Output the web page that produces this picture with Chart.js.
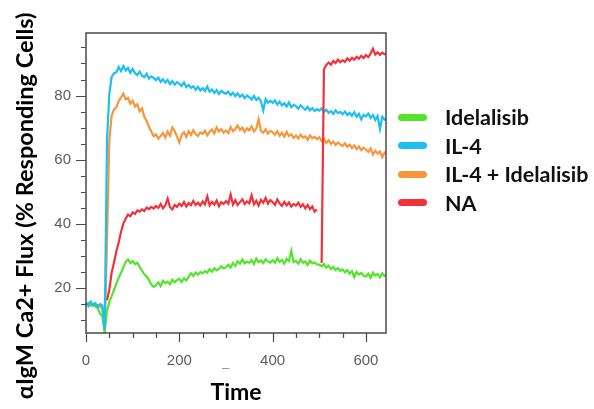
<!DOCTYPE html>
<html lang="en">
<head>
<meta charset="UTF-8">
<title>aIgM Ca2+ Flux</title>
<script src="https://cdn.jsdelivr.net/npm/chart.js"></script>
<style>
    html, body { margin: 0; padding: 0; background: #ffffff; }
    #wrap { position: relative; width: 594px; height: 409px; }
    #legend {
        position: absolute; left: 398px; top: 103px;
        font-family: Lato, sans-serif; font-weight: 700; font-size: 21.5px; color: #111;
    }
    .item { display: flex; align-items: center; height: 28.5px; white-space: nowrap; }
    .sw { width: 29px; height: 7px; border-radius: 3.5px; margin-right: 18px; }
</style>
</head>
<body>
<div id="wrap">
    <canvas id="myChart" width="594" height="409"></canvas>
    <div id="legend"></div>
</div>
<script>
// time points, every 5 s from 0 to 645
const times = [];
for (let t = 0; t <= 645; t += 5) times.push(t);

const seriesNames = ['Idelalisib', 'IL-4', 'IL-4 + Idelalisib', 'NA'];
const seriesColors = ['#52e52c', '#1ebff0', '#f7963c', '#f0323c'];

const idelalisib = [
    14.8, 15.3, 14.5, 15.1, 14.2, 13.8, 12.0, 11.2, 6.5, 12.9,
    15.6, 17.5, 19.4, 21.3, 23.2, 24.8, 26.4, 28.2, 28.9, 27.8,
    28.4, 27.5, 27.9, 26.6, 25.4, 24.3, 23.6, 22.5, 21.1, 20.4,
    20.9, 21.8, 20.6, 22.3, 21.5, 22.0, 21.2, 22.6, 21.8, 22.5,
    22.9, 21.9, 23.1, 22.4, 23.5, 24.6, 23.8, 24.9, 24.2, 25.0,
    24.6, 25.3, 24.8, 25.9, 25.1, 26.2, 25.5, 26.0, 26.8, 26.1,
    26.5, 27.3, 26.4, 27.8, 26.9, 28.4, 27.6, 28.9, 27.7, 28.2,
    27.9, 28.8, 27.5, 29.2, 28.1, 28.6, 27.8, 29.0, 28.3, 27.9,
    28.7, 27.9, 29.3, 28.2, 28.8, 27.6, 29.1, 28.4, 31.6, 28.1,
    28.5, 27.6, 29.0, 27.9, 28.3, 27.2, 28.6, 27.7, 28.0, 27.4,
    27.3, 26.8, 27.5, 26.4, 27.0, 25.9, 26.6, 25.6, 26.2, 25.4,
    25.8, 24.9, 25.6, 24.5, 25.3, 23.4, 25.0, 24.2, 24.7, 23.8,
    23.6, 24.5, 23.2, 24.8, 23.9, 24.4, 23.3, 24.6, 23.8, 24.1
];

const il4 = [
    15.6, 14.4, 15.8, 14.7, 15.3, 14.1, 15.0, 14.6, 7.0, 66.0,
    80.5, 85.8, 86.9, 87.3, 88.9, 87.6, 89.2, 87.8, 88.6, 87.1,
    88.3, 87.0, 86.4, 87.5, 86.2, 85.7, 86.8, 85.3, 86.0, 85.5,
    84.8, 85.6, 84.3, 85.1, 84.0, 84.9, 83.6, 84.5, 83.4, 84.2,
    83.7, 83.0, 84.1, 82.6, 83.3, 82.4, 82.9, 81.8, 82.7, 81.6,
    82.3, 81.4, 82.8, 81.2, 81.9, 80.8, 81.7, 80.5, 81.5, 80.9,
    80.6, 81.2, 80.1, 80.9, 79.8, 80.7, 79.6, 80.3, 79.2, 80.0,
    79.5, 78.8, 79.9, 78.6, 79.3, 78.2, 75.4, 78.9, 77.8, 78.4,
    77.7, 78.5, 77.2, 78.1, 76.9, 77.6, 76.6, 77.9, 76.4, 77.1,
    76.7, 75.9, 77.0, 76.2, 75.6, 76.5, 75.4, 76.1, 75.2, 75.8,
    75.3, 76.0, 74.9, 75.6, 74.6, 75.2, 74.3, 75.4, 74.5, 74.9,
    74.2, 75.0, 73.9, 74.6, 73.7, 74.8, 73.4, 74.3, 72.6, 74.0,
    73.5, 74.4, 73.0, 73.9, 72.4, 73.6, 69.6, 73.4, 72.5, 73.2
];

const il4Idelalisib = [
    15.1, 14.8, 15.4, 14.5, 15.0, 14.7, 14.2, 13.6, 6.2, 34.5,
    66.0, 73.8, 75.6, 76.4, 78.2, 79.4, 80.6, 78.9, 79.3, 77.5,
    78.4, 76.6, 77.3, 75.1, 76.0, 73.4, 72.1, 70.2, 68.8, 67.3,
    67.9, 66.6, 67.4, 68.3, 66.9, 68.8, 67.5, 70.1, 69.0, 67.2,
    65.4, 67.8, 68.6, 67.1, 68.9, 67.7, 69.2, 68.0, 67.4, 68.5,
    68.1, 69.0, 67.6, 68.7, 69.4, 68.2, 70.1, 68.8, 69.5, 68.4,
    69.1, 68.3, 70.2, 68.9, 69.6, 70.7, 69.3, 70.0, 68.7, 69.8,
    69.2, 70.4, 68.8, 69.7, 72.6, 69.0, 68.4, 69.5, 68.1, 69.0,
    68.6, 67.8, 68.9, 67.5, 68.4, 67.2, 68.7, 67.4, 67.9, 66.8,
    67.5, 66.6, 67.8, 66.9, 67.3, 66.2, 67.6, 66.7, 67.1, 66.4,
    67.0, 65.8, 66.5, 65.2, 66.1, 64.9, 65.7, 64.6, 65.4, 64.8,
    64.3, 65.1, 64.0, 64.7, 63.6, 64.5, 63.3, 64.1, 63.0, 63.8,
    63.2, 62.4, 63.5, 61.6, 62.8, 61.9, 62.6, 60.8, 62.2, 61.7
];

const na = [
    null, null, null, null, null, null, null, null, null, 16.2,
    19.5, 24.8, 28.0, 31.4, 34.2, 37.5, 40.1, 41.6, 42.9, 42.4,
    43.6, 43.1, 44.2, 43.8, 44.5, 44.0, 45.1, 44.6, 45.3, 44.8,
    45.6, 45.0, 46.2, 44.9, 45.8, 47.9, 45.2, 44.5, 45.9, 45.3,
    46.3, 45.6, 46.8, 45.4, 46.5, 45.8, 47.2, 45.9, 46.6, 45.7,
    47.0, 46.1, 48.6, 45.8, 46.9, 46.0, 47.3, 45.5, 46.8, 46.2,
    47.1, 46.3, 49.2, 46.0, 47.4, 45.9, 46.8, 47.7, 46.2, 47.0,
    46.4, 48.9, 46.1, 47.2, 45.7, 47.5, 46.6, 48.1, 46.3, 47.4,
    46.8, 45.9, 47.6, 46.4, 45.6, 46.9, 45.8, 46.7, 45.4, 46.2,
    45.7, 46.6, 45.3, 46.1, 44.8, 45.9, 44.6, 45.4, 43.8, 44.5,
    null, 27.8, 88.2, 89.5, 90.3, 89.6, 90.8, 90.1, 91.2, 90.4,
    91.0, 90.5, 91.6, 90.9, 91.8, 91.2, 92.1, 91.5, 92.4, 91.7,
    92.6, 92.0, 93.1, 94.6, 92.8, 93.5, 92.7, 93.4, 92.9, 93.2
];

const seriesValues = [idelalisib, il4, il4Idelalisib, na];

const xTickLabels = [0, 200, 400, 600];
const yTickLabels = [20, 40, 60, 80];
const xMinorStep = 50;
const yMinorStep = 5;

const tickFont = { family: 'Liberation Sans, Arial, sans-serif', size: 15 };

const frameAndTicks = {
    id: 'frameAndTicks',
    afterDraw(chart) {
        const { ctx, chartArea: a, scales: { x, y } } = chart;
        ctx.save();
        ctx.strokeStyle = '#4a4a4a';
        ctx.lineWidth = 1.5;
        ctx.strokeRect(a.left, a.top, a.right - a.left, a.bottom - a.top);
        ctx.lineWidth = 1.2;
        ctx.beginPath();
        for (let v = 0; v <= x.max; v += xMinorStep) {
            const px = Math.round(x.getPixelForValue(v)) + 0.5;
            const len = xTickLabels.includes(v) ? 9 : 5;
            ctx.moveTo(px, a.bottom);
            ctx.lineTo(px, a.bottom + len);
        }
        for (let v = 10; v <= y.max; v += yMinorStep) {
            const py = Math.round(y.getPixelForValue(v)) + 0.5;
            const len = yTickLabels.includes(v) ? 10 : 5;
            ctx.moveTo(a.left, py);
            ctx.lineTo(a.left - len, py);
        }
        ctx.stroke();
        // faint remnant of the 300 label
        ctx.fillStyle = '#888';
        ctx.font = '13px Liberation Sans, Arial, sans-serif';
        ctx.textAlign = 'center';
        ctx.fillText('_', x.getPixelForValue(300), 366);
        ctx.restore();
    }
};

const ctx = document.getElementById('myChart').getContext('2d');
const myChart = new Chart(ctx, {
    type: 'line',
    data: {
        datasets: seriesNames.map((name, i) => ({
            label: name,
            data: times.map((t, j) => ({ x: t, y: seriesValues[i][j] })),
            borderColor: seriesColors[i],
            backgroundColor: seriesColors[i],
            borderWidth: 2.2,
            pointRadius: 0,
            tension: 0,
            spanGaps: false,
            order: [2, 1, 3, 0][i]
        }))
    },
    options: {
        responsive: false,
        animation: false,
        devicePixelRatio: 1,
        layout: { padding: { left: 0, top: 33, right: 208, bottom: 0 } },
        plugins: { legend: { display: false }, tooltip: { enabled: false } },
        scales: {
            x: {
                type: 'linear',
                min: 0,
                max: 643,
                afterFit(scale) { scale.height = 76; },
                afterBuildTicks(scale) { scale.ticks = xTickLabels.map(v => ({ value: v })); },
                grid: { display: false, drawTicks: false },
                border: { display: false },
                ticks: { font: tickFont, color: '#5c5c5c', padding: 19, maxRotation: 0 },
                title: {
                    display: true,
                    text: 'Time',
                    color: '#000',
                    font: { family: 'Lato, sans-serif', size: 23, weight: 'bold' },
                    padding: { top: 0, bottom: 3 }
                }
            },
            y: {
                min: 6,
                max: 99.5,
                afterFit(scale) { scale.width = 86; },
                afterBuildTicks(scale) { scale.ticks = yTickLabels.map(v => ({ value: v })); },
                grid: { display: false, drawTicks: false },
                border: { display: false },
                ticks: { font: tickFont, color: '#5c5c5c', padding: 15 },
                title: {
                    display: true,
                    text: 'αIgM Ca2+ Flux (% Responding Cells)        ',
                    color: '#000',
                    font: { family: 'Lato, sans-serif', size: 23.5, weight: 'bold' },
                    padding: { top: 11, bottom: 0 }
                }
            }
        }
    },
    plugins: [frameAndTicks]
});

// legend built from the chart's datasets
const legendEl = document.getElementById('legend');
myChart.data.datasets.forEach(ds => {
    const item = document.createElement('div');
    item.className = 'item';
    const sw = document.createElement('span');
    sw.className = 'sw';
    sw.style.background = ds.borderColor;
    const label = document.createElement('span');
    label.textContent = ds.label;
    item.appendChild(sw);
    item.appendChild(label);
    legendEl.appendChild(item);
});
</script>
</body>
</html>
